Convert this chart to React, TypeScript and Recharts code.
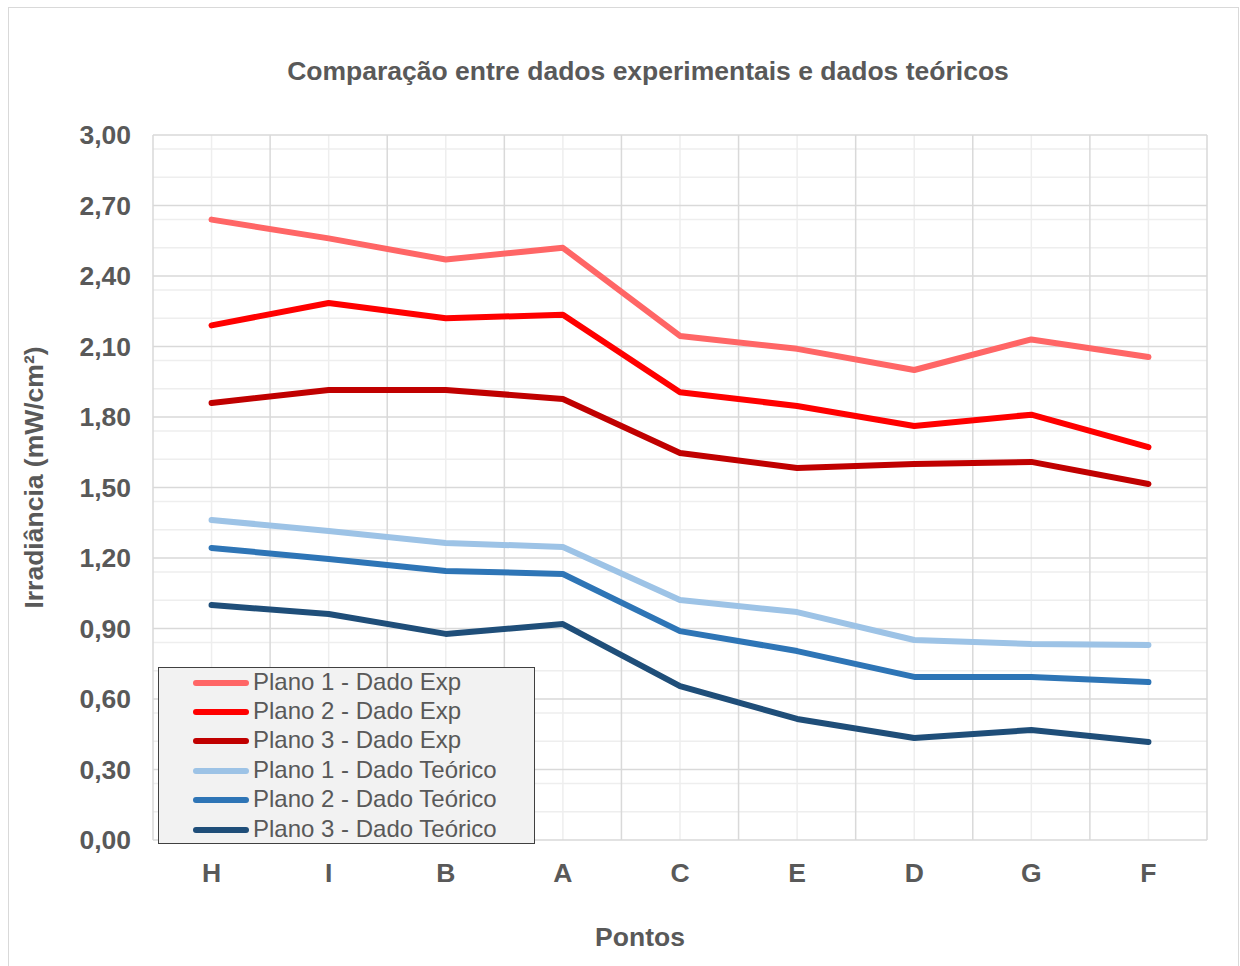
import { CartesianGrid, Line, LineChart, XAxis, YAxis } from 'recharts';

const pontos = ['H', 'I', 'B', 'A', 'C', 'E', 'D', 'G', 'F'];

const plano1Exp = [2.64, 2.56, 2.47, 2.52, 2.145, 2.09, 2.0, 2.13, 2.055];
const plano2Exp = [2.19, 2.285, 2.22, 2.235, 1.905, 1.847, 1.762, 1.81, 1.672];
const plano3Exp = [1.86, 1.915, 1.915, 1.877, 1.647, 1.583, 1.6, 1.609, 1.515];
const plano1Teo = [1.362, 1.315, 1.264, 1.247, 1.021, 0.97, 0.851, 0.834, 0.83];
const plano2Teo = [1.243, 1.196, 1.145, 1.132, 0.889, 0.804, 0.694, 0.694, 0.672];
const plano3Teo = [1.0, 0.962, 0.877, 0.919, 0.655, 0.515, 0.434, 0.468, 0.417];

const yMajor = [0, 0.3, 0.6, 0.9, 1.2, 1.5, 1.8, 2.1, 2.4, 2.7, 3.0];
const yMinor = [
  0.06, 0.12, 0.18, 0.24, 0.36, 0.42, 0.48, 0.54, 0.66, 0.72, 0.78, 0.84, 0.96, 1.02, 1.08, 1.14,
  1.26, 1.32, 1.38, 1.44, 1.56, 1.62, 1.68, 1.74, 1.86, 1.92, 1.98, 2.04, 2.16, 2.22, 2.28, 2.34,
  2.46, 2.52, 2.58, 2.64, 2.76, 2.82, 2.88, 2.94,
];
// each ponto sits in the middle of its own slot on a 0..9 scale:
// slot borders get the darker grid, slot centres the light one
const slotCentres = [0.5, 1.5, 2.5, 3.5, 4.5, 5.5, 6.5, 7.5, 8.5];
const slotBorders = [0, 1, 2, 3, 4, 5, 6, 7, 8, 9];

const series = [
  { key: 'p1exp', name: 'Plano 1 - Dado Exp', color: '#ff6666', values: plano1Exp },
  { key: 'p2exp', name: 'Plano 2 - Dado Exp', color: '#ff0000', values: plano2Exp },
  { key: 'p3exp', name: 'Plano 3 - Dado Exp', color: '#c00000', values: plano3Exp },
  { key: 'p1teo', name: 'Plano 1 - Dado Teórico', color: '#9dc3e6', values: plano1Teo },
  { key: 'p2teo', name: 'Plano 2 - Dado Teórico', color: '#2e75b6', values: plano2Teo },
  { key: 'p3teo', name: 'Plano 3 - Dado Teórico', color: '#1f4e79', values: plano3Teo },
];

const data = pontos.map((p, i) => {
  const row: Record<string, string | number> = { ponto: p, slot: slotCentres[i] };
  series.forEach((s) => {
    row[s.key] = s.values[i];
  });
  return row;
});

const FONT = '"Liberation Sans", Arial, sans-serif';
const TEXT = '#595959';
const BOLD = 26.5;

const fmt = (v: number) => v.toFixed(2).replace('.', ',');
const slotLabel = (v: number) => pontos[slotCentres.indexOf(v)] ?? '';

function YTitle({ viewBox }: any) {
  const cx = viewBox.x + 25;
  const cy = viewBox.y + viewBox.height / 2 - 10;
  return (
    <text
      x={cx}
      y={cy}
      transform={`rotate(-90 ${cx} ${cy})`}
      textAnchor="middle"
      dominantBaseline="central"
      fill={TEXT}
      fontFamily={FONT}
      fontWeight="bold"
      fontSize={BOLD}
    >
      Irradiância (mW/cm²)
    </text>
  );
}

function XTitle({ viewBox }: any) {
  return (
    <text
      x={viewBox.x + viewBox.width / 2 - 40}
      y={viewBox.y + 97}
      textAnchor="middle"
      dominantBaseline="central"
      fill={TEXT}
      fontFamily={FONT}
      fontWeight="bold"
      fontSize={BOLD}
    >
      Pontos
    </text>
  );
}

export default function App() {
  return (
    <div
      style={{
        position: 'absolute',
        left: 8,
        top: 7,
        width: 1231,
        height: 975,
        border: '1px solid #d9d9d9',
        boxSizing: 'border-box',
        background: '#fff',
        fontFamily: FONT,
      }}
    >
      <div
        style={{
          position: 'absolute',
          left: 0,
          width: 1278,
          top: 48,
          textAlign: 'center',
          color: TEXT,
          fontWeight: 'bold',
          fontSize: BOLD,
        }}
      >
        Comparação entre dados experimentais e dados teóricos
      </div>
      <div style={{ position: 'absolute', left: 0, top: 0 }}>
        <LineChart
          width={1228}
          height={950}
          data={data}
          margin={{ top: 127, right: 30, bottom: 0, left: 0 }}
        >
          <CartesianGrid
            stroke="#eeeeee"
            strokeWidth={1.5}
            horizontalValues={yMinor}
            verticalValues={slotCentres}
          />
          <CartesianGrid
            stroke="#d9d9d9"
            strokeWidth={1.5}
            horizontalValues={yMajor}
            verticalValues={slotBorders}
          />
          <XAxis
            dataKey="slot"
            type="number"
            domain={[0, 9]}
            ticks={slotCentres}
            tickFormatter={slotLabel}
            allowDataOverflow
            axisLine={false}
            tickLine={false}
            tickSize={0}
            tickMargin={23}
            interval={0}
            tick={{ fill: TEXT, fontSize: BOLD, fontWeight: 'bold', fontFamily: FONT }}
            height={118}
            label={<XTitle />}
          />
          <YAxis
            domain={[0, 3]}
            ticks={yMajor}
            tickFormatter={fmt}
            width={144}
            axisLine={false}
            tickLine={false}
            tickSize={0}
            tickMargin={22}
            tick={{ fill: TEXT, fontSize: BOLD, fontWeight: 'bold', fontFamily: FONT }}
            label={<YTitle />}
          />
          {series.map((s) => (
            <Line
              key={s.key}
              type="linear"
              dataKey={s.key}
              name={s.name}
              stroke={s.color}
              strokeWidth={6}
              strokeLinecap="round"
              strokeLinejoin="round"
              dot={false}
              activeDot={false}
              isAnimationActive={false}
            />
          ))}
        </LineChart>
      </div>
      <div
        style={{
          position: 'absolute',
          left: 149,
          top: 659,
          width: 377,
          height: 177,
          background: '#f2f2f2',
          border: '1px solid #404040',
          boxSizing: 'border-box',
        }}
      >
        {series.map((s) => (
          <div
            key={s.key}
            style={{ display: 'flex', alignItems: 'center', height: 29.4, color: TEXT, fontSize: 24 }}
          >
            <span
              style={{
                display: 'inline-block',
                marginLeft: 34,
                marginRight: 4,
                width: 56,
                height: 6,
                borderRadius: 3,
                background: s.color,
              }}
            />
            <span style={{ whiteSpace: 'nowrap', marginTop: -2 }}>{s.name}</span>
          </div>
        ))}
      </div>
    </div>
  );
}
